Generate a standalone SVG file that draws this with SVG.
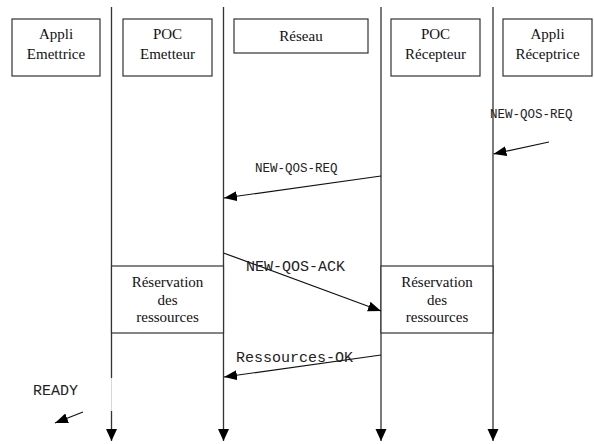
<svg xmlns="http://www.w3.org/2000/svg" width="594" height="444" viewBox="0 0 594 444">
  <style>
    .box { fill: #fff; stroke: #333; stroke-width: 1.2; }
    .lbl { font-family: "Liberation Serif", "Times New Roman", serif; font-size: 15px; fill: #111; text-anchor: middle; }
    .life { stroke: #333; stroke-width: 1.3; fill: none; }
    .msg { stroke: #111; stroke-width: 1.2; fill: none; marker-end: url(#head); }
    .mono { font-family: "Liberation Mono", "Courier New", monospace; fill: #222; }
  </style>
  <defs>
    <marker id="head" markerUnits="userSpaceOnUse" markerWidth="14" markerHeight="12" refX="13" refY="5" orient="auto">
      <path d="M0,0 L13,5 L0,10 z" fill="#000"/>
    </marker>
    <marker id="down" markerUnits="userSpaceOnUse" markerWidth="14" markerHeight="12" refX="12" refY="5.5" orient="auto">
      <path d="M0,0 L12,5.5 L0,11 z" fill="#000"/>
    </marker>
  </defs>

  <!-- lifelines -->
  <g id="lifelines">
    <line class="life" x1="111.5" y1="7" x2="111.5" y2="378"/>
    <line x1="111.5" y1="378" x2="111.5" y2="411" stroke="#d8d8d8" stroke-width="1"/>
    <line class="life" x1="111.5" y1="411" x2="111.5" y2="441" marker-end="url(#down)"/>
    <line class="life" x1="223.5" y1="7" x2="223.5" y2="441" marker-end="url(#down)"/>
    <line class="life" x1="381" y1="7" x2="381" y2="441" marker-end="url(#down)"/>
    <line class="life" x1="493" y1="7" x2="493" y2="441" marker-end="url(#down)"/>
  </g>

  <!-- participants -->
  <g id="appli-emettrice">
    <rect class="box" x="12" y="19" width="88" height="57"/>
    <text class="lbl" x="56" y="38.5">Appli</text>
    <text class="lbl" x="56" y="59">Emettrice</text>
  </g>
  <g id="poc-emetteur">
    <rect class="box" x="123" y="19" width="89" height="57"/>
    <text class="lbl" x="167.5" y="38.5">POC</text>
    <text class="lbl" x="167.5" y="59">Emetteur</text>
  </g>
  <g id="reseau">
    <rect class="box" x="234" y="19" width="134" height="34"/>
    <text class="lbl" x="301" y="41">Réseau</text>
  </g>
  <g id="poc-recepteur">
    <rect class="box" x="391" y="19" width="89" height="57"/>
    <text class="lbl" x="435.5" y="38.5">POC</text>
    <text class="lbl" x="435.5" y="59">Récepteur</text>
  </g>
  <g id="appli-receptrice">
    <rect class="box" x="503" y="19" width="89" height="57"/>
    <text class="lbl" x="547.5" y="38.5">Appli</text>
    <text class="lbl" x="547.5" y="59">Réceptrice</text>
  </g>

  <!-- resource reservation activities -->
  <g id="reservation-emetteur">
    <rect class="box" x="111.5" y="266" width="112" height="67"/>
    <text class="lbl" x="167.5" y="287">Réservation</text>
    <text class="lbl" x="167.5" y="304.5">des</text>
    <text class="lbl" x="167.5" y="322">ressources</text>
  </g>
  <g id="reservation-recepteur">
    <rect class="box" x="381" y="266" width="112" height="67"/>
    <text class="lbl" x="437" y="287">Réservation</text>
    <text class="lbl" x="437" y="304.5">des</text>
    <text class="lbl" x="437" y="322">ressources</text>
  </g>

  <!-- messages -->
  <g id="connectors">
    <line class="msg" x1="549" y1="142" x2="493.5" y2="154"/>
    <text class="mono" x="490" y="118" font-size="12.5">NEW-QOS-REQ</text>

    <line class="msg" x1="381" y1="176" x2="224" y2="198"/>
    <text class="mono" x="255" y="172" font-size="12.5">NEW-QOS-REQ</text>

    <line class="msg" x1="223.5" y1="253" x2="381" y2="311"/>
    <text class="mono" x="246" y="271" font-size="15">NEW-QOS-ACK</text>

    <line class="msg" x1="381" y1="355" x2="224" y2="377"/>
    <text class="mono" x="236" y="362" font-size="15">Ressources-OK</text>

    <line class="msg" x1="83" y1="412" x2="55" y2="423"/>
    <text class="mono" x="33" y="395" font-size="15">READY</text>
  </g>
</svg>
